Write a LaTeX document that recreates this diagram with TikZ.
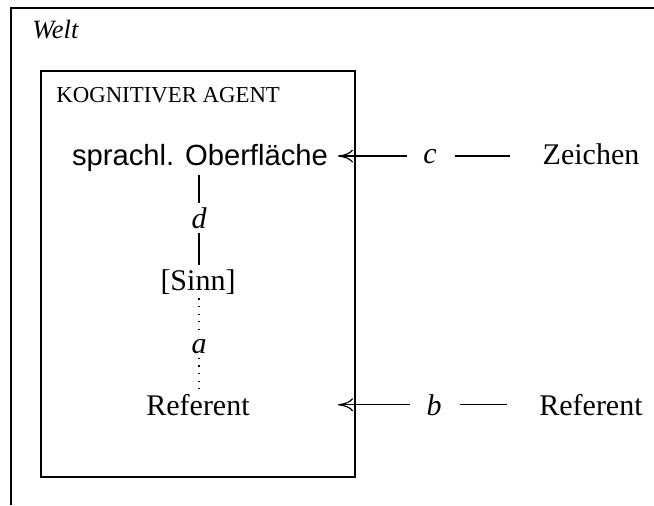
\documentclass[tikz,border=0pt]{standalone}
\usepackage{fontspec}
\setmainfont{Liberation Serif}
\setsansfont{Liberation Sans}
\usetikzlibrary{arrows.meta,calc}
\tikzset{>={To[length=7.5pt,width=6.5pt]},
	frame/.style={line width=1pt},
	agentbox/.style={line width=0.8pt},
	txt/.style={anchor=base,inner sep=2pt,font=\fontsize{15}{18}\selectfont},
	stxt/.style={anchor=base,inner sep=2pt,font=\fontsize{14.6}{18}\selectfont\sffamily},
	rel/.style={anchor=base,inner sep=2pt,font=\fontsize{15}{18}\selectfont\itshape},
	link/.style={line width=0.6pt},
	dots/.style={line width=0.6pt,dash pattern=on 0.6pt off 3.2pt}}

\begin{document}
\begin{tikzpicture}[x=0.5pt,y=-0.5pt]
	\useasboundingbox (0,0) rectangle (654,505);
	% Welt
	\draw [frame] (11,505) -- (11,8) -- (654,8);
	\node (welt) at (32,38) [anchor=base west,inner sep=0pt,font=\fontsize{13.2}{15}\selectfont\itshape] {Welt};
	% kognitiver Agent
	\draw [agentbox] (41,71) rectangle (355,477);
	\node (agent) at (56,102) [anchor=base west,inner sep=0pt,font=\fontsize{11.4}{14}\selectfont] {KOGNITIVER AGENT};
	\node (ober) at (200,165) [stxt] {sprachl. Oberfläche};
	\node (d) at (199,228) [rel] {d};
	\node (sinn) at (198,290) [txt] {[Sinn]};
	\node (a) at (199,353) [rel] {a};
	\node (ref) at (198,415) [txt] {Referent};
	% aussen
	\node (c) at (430,163) [rel] {c};
	\node (b) at (434,415) [rel] {b};
	\node (zeichen) at (591,164) [txt] {Zeichen};
	\node (refw) at (591,415) [txt] {Referent};
	\coordinate (tipc) at (338,0);
	\coordinate (tipb) at (338,0);
	\draw [link] (d |- ober.south) -- (d.north);
	\draw [link] (d) -- (d |- sinn.north);
	\draw [dots] (a |- sinn.south) -- (a);
	\draw [dots] (a) -- (a |- ref.north);
	\draw [link,->,shorten <=6pt] (c) -- (c -| tipc);
	\draw [link,->,shorten <=6pt] (b) -- (b -| tipb);
	\draw [link,shorten <=7pt,shorten >=14pt] (c) -- (zeichen.west |- c);
	\draw [link,shorten <=7pt,shorten >=14pt] (b) -- (refw.west |- b);
\end{tikzpicture}
\end{document}
